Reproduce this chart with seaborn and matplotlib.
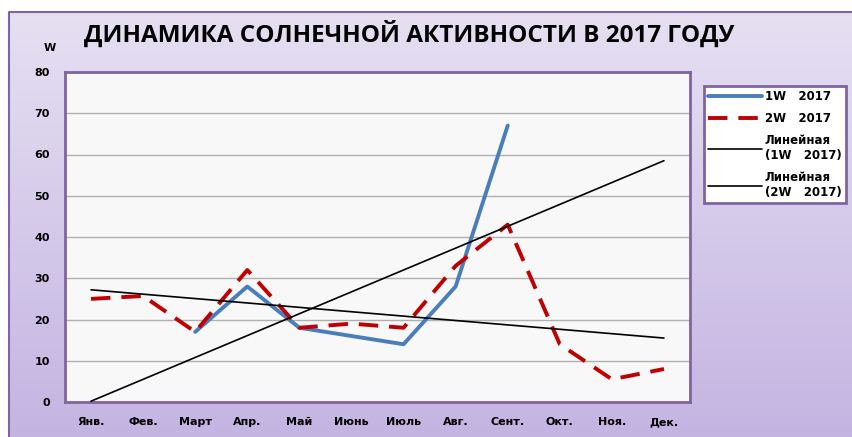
import numpy as np
import pandas as pd
import matplotlib.pyplot as plt
import matplotlib.patches as mpatches
from matplotlib.lines import Line2D
import seaborn as sns

# Data
months = ['Янв.', 'Фев.', 'Март', 'Апр.', 'Май', 'Июнь', 'Июль', 'Авг.', 'Сент.', 'Окт.', 'Ноя.', 'Дек.']
w1 = [np.nan, np.nan, 17, 28, 18, 16, 14, 28, 67, np.nan, np.nan, np.nan]
w2 = [25, 25.7, 17, 32, 18, 19, 18, 33, 43, 14, 5.5, 8]
# Excel trend lines (values at Jan and Dec)
trend1 = [0.2, 58.5]
trend2 = [27.2, 15.5]

df = pd.DataFrame({'x': range(12), 'w1': w1, 'w2': w2})

sns.set_style('white')
plt.rcParams['font.family'] = ['DejaVu Sans']
plt.rcParams['text.color'] = 'black'
plt.rcParams['xtick.color'] = 'black'
plt.rcParams['ytick.color'] = 'black'

fig = plt.figure(figsize=(8.52, 4.37), dpi=100)

# gradient background with purple frame
bg = fig.add_axes([0, 0, 1, 1], zorder=-10)
top = np.array([230, 224, 242]) / 255
bot = np.array([196, 180, 226]) / 255
t = np.linspace(0, 1, 256)[:, None]
grad = top[None, :] * (1 - t) + bot[None, :] * t
bg.add_patch(mpatches.Rectangle((0, 0), 1, 1, color='white', zorder=-1))
bg.imshow(grad[:, None, :], aspect='auto', extent=[9 / 852, 1, 0, 1 - 12 / 437], origin='upper')
bg.plot([9 / 852, 9 / 852, 1], [0, 1 - 12 / 437, 1 - 12 / 437], color='#8064a2', lw=1.5)
bg.set_xlim(0, 1)
bg.set_ylim(0, 1)
bg.axis('off')

ax = fig.add_axes([65 / 852, 1 - 402 / 437, 625 / 852, 330 / 437])
ax.set_facecolor('#f8f8f8')

dash = (0, (5, 2.8))
sns.lineplot(data=df, x='x', y='w1', ax=ax, color='#4a7ebb', lw=2.8, zorder=3)
sns.lineplot(data=df, x='x', y='w2', ax=ax, color='#c00000', lw=2.8, zorder=4,
             linestyle=dash)
ax.plot([0, 11], trend1, color='black', lw=1.2, zorder=5)
ax.plot([0, 11], trend2, color='black', lw=1.2, zorder=5)

ax.set_xlim(-0.5, 11.5)
ax.set_ylim(0, 80)
ax.set_yticks(range(0, 81, 10))
ax.set_yticklabels([str(v) for v in range(0, 81, 10)], fontsize=8, fontweight='bold')
ax.set_xticks(range(12))
ax.set_xticklabels(months, fontsize=8, fontweight='bold')
ax.set_xticks(np.arange(-0.5, 12, 1), minor=True)
ax.tick_params(axis='x', which='major', length=0, pad=11)
ax.tick_params(axis='x', which='minor', length=4, color='#808080')
ax.tick_params(axis='y', length=5, color='#808080', pad=6)
ax.yaxis.grid(True, color='#b0b0b0', lw=1)
ax.set_axisbelow(True)
ax.set_xlabel('')
ax.set_ylabel('')
for s in ax.spines.values():
    s.set_color('#8064a2')
    s.set_linewidth(2)

fig.text(409 / 852, 1 - 34 / 437, 'ДИНАМИКА СОЛНЕЧНОЙ АКТИВНОСТИ В 2017 ГОДУ',
         ha='center', va='center', fontsize=17.5, fontweight='bold', family='Open Sans')
fig.text(50 / 852, 1 - 48 / 437, 'W', ha='center', va='center', fontsize=8, fontweight='bold')

handles = [
    Line2D([], [], color='#4a7ebb', lw=2.8),
    Line2D([], [], color='#c00000', lw=2.8, linestyle=dash),
    Line2D([], [], color='black', lw=1.2),
    Line2D([], [], color='black', lw=1.2),
]
labels = ['1W   2017', '2W   2017', 'Линейная\n(1W   2017)', 'Линейная\n(2W   2017)']
leg = fig.legend(handles, labels, loc='upper left', bbox_to_anchor=(704 / 852, 1 - 86 / 437),
                 frameon=True, fancybox=False, prop={'size': 8.5, 'weight': 'bold'},
                 handlelength=4.6, handletextpad=0.2, labelspacing=0.75, borderpad=0.35,
                 borderaxespad=0)
for txt in leg.get_texts():
    txt.set_multialignment('left')
leg.get_frame().set_edgecolor('#8064a2')
leg.get_frame().set_linewidth(2)
leg.get_frame().set_facecolor('white')
leg.get_frame().set_alpha(1)

fig.savefig('out.png', dpi=100)
